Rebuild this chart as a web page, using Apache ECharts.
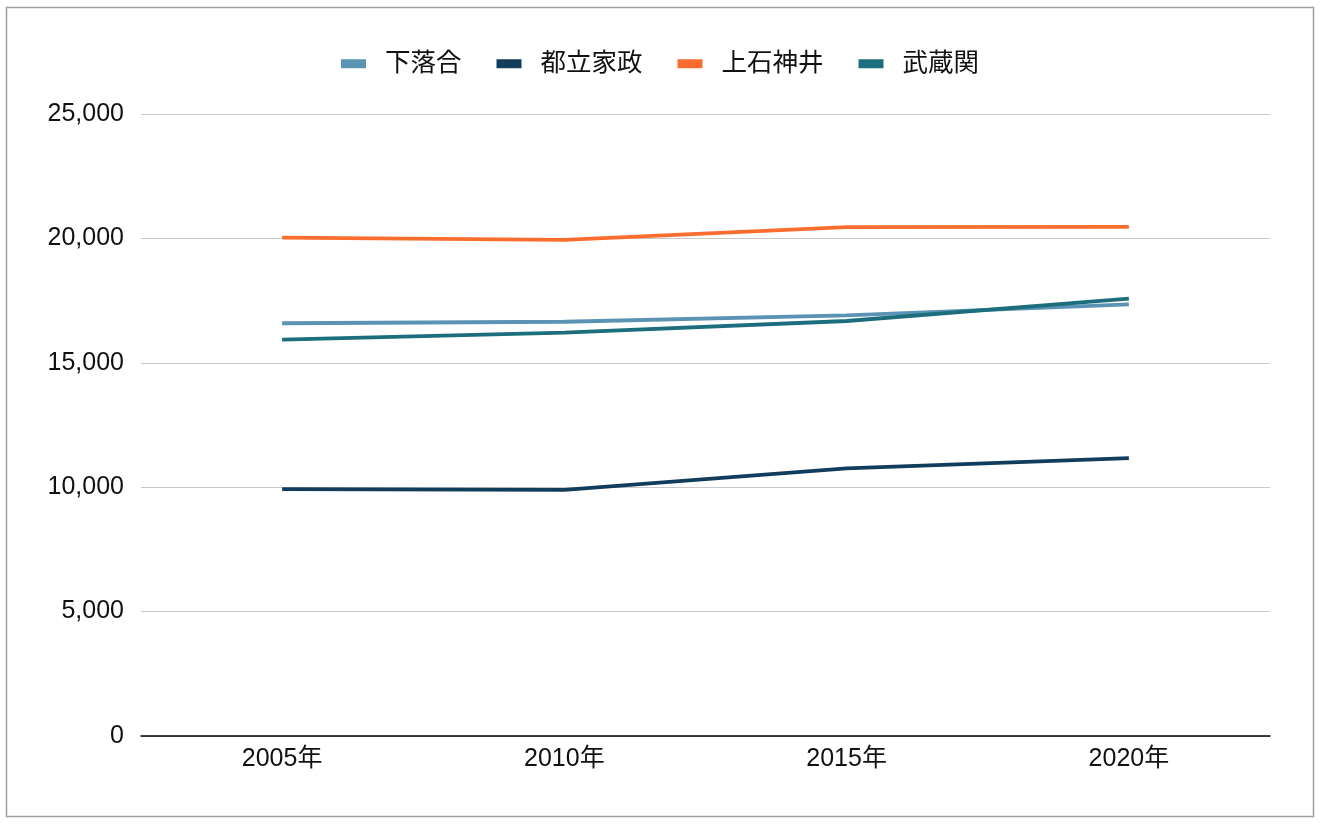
<!DOCTYPE html>
<html><head><meta charset="utf-8">
<script src="https://cdn.jsdelivr.net/npm/echarts@6/dist/echarts.min.js"></script>
<style>html,body{margin:0;padding:0;background:#fff}#c{width:1320px;height:824px}</style>
</head><body><div id="c"></div>
<script>
const categories = ['2005年','2010年','2015年','2020年'];
const shimoochiai = [16590, 16650, 16910, 17350];
const toritsuKasei = [9920, 9890, 10760, 11170];
const kamiShakujii = [20030, 19940, 20450, 20460];
const musashiseki = [15930, 16210, 16680, 17580];
const yTicks = [0, 5000, 10000, 15000, 20000, 25000];

const font = '"Liberation Sans", Arial, "Noto Sans CJK JP", sans-serif';
const chart = echarts.init(document.getElementById('c'));
function s(name, data, color){
  return {name, type:'line', data, symbol:'none', smooth:false,
    lineStyle:{width:3.8, color}, itemStyle:{color}};
}
chart.setOption({
  animation:false,
  graphic:[{type:'rect', shape:{x:6.5,y:7.5,width:1307,height:809}, style:{fill:'none', stroke:'#9e9e9e', lineWidth:1.5}, silent:true}],
  legend:{top:46, left:'center', itemWidth:25, itemHeight:9, itemGap:35,
    icon:'rect', textStyle:{fontFamily:font, fontSize:25.5, color:'#111', padding:[0,0,0,14]}},
  grid:{left:141, right:50, top:114, bottom:88, containLabel:false},
  xAxis:{type:'category', data:categories, boundaryGap:true,
    axisLine:{lineStyle:{color:'#000', width:1.5}}, axisTick:{show:false},
    axisLabel:{fontFamily:font, fontSize:25, color:'#111', margin:11}},
  yAxis:{type:'value', min:yTicks[0], max:yTicks[yTicks.length-1], interval:5000,
    axisLine:{show:false}, axisTick:{show:false},
    splitLine:{lineStyle:{color:'#c8c8c8', width:1.2}},
    axisLabel:{fontFamily:font, fontSize:25, color:'#111', margin:17,
      formatter:v=>v.toLocaleString('en-US')}},
  series:[
    s('下落合', shimoochiai, '#5a93b3'),
    s('都立家政', toritsuKasei, '#123c5c'),
    s('上石神井', kamiShakujii, '#fb6d2f'),
    s('武蔵関', musashiseki, '#1c6e7d')
  ]
});
</script></body></html>
